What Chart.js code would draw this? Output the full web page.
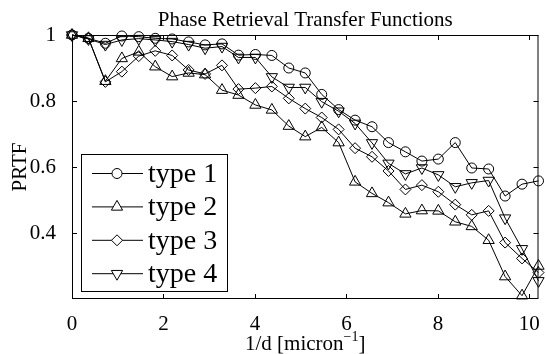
<!DOCTYPE html>
<html>
<head>
<meta charset="utf-8">
<script src="https://cdn.jsdelivr.net/npm/chart.js"></script>
<style>
  html, body { margin: 0; padding: 0; background: #fff; }
  #wrap { width: 546px; height: 354px; }
</style>
</head>
<body>
<div id="wrap"><canvas id="prtfChart"></canvas></div>
<script>
// 1/d [micron^-1]
const freq = [0, 0.36, 0.73, 1.09, 1.46, 1.82, 2.19, 2.55, 2.91, 3.28, 3.64, 4.01, 4.37, 4.74, 5.10,
              5.46, 5.83, 6.19, 6.56, 6.92, 7.29, 7.65, 8.01, 8.38, 8.74, 9.11, 9.47, 9.84, 10.2];

// PRTF per type
const type1 = [1.0, 0.99, 0.975, 0.997, 0.995, 0.99, 0.988, 0.979, 0.97, 0.973, 0.939, 0.941, 0.938, 0.90, 0.885,
               0.82, 0.774, 0.742, 0.722, 0.674, 0.646, 0.618, 0.624, 0.674, 0.597, 0.594, 0.512, 0.548, 0.558];
const type2 = [1.0, 0.99, 0.86, 0.929, 0.949, 0.904, 0.874, 0.885, 0.88, 0.833, 0.818, 0.788, 0.773, 0.724, 0.692,
               0.72, 0.674, 0.555, 0.52, 0.492, 0.458, 0.468, 0.467, 0.434, 0.42, 0.378, 0.268, 0.21, 0.30];
const type3 = [1.0, 0.99, 0.858, 0.889, 0.936, 0.952, 0.938, 0.894, 0.882, 0.908, 0.836, 0.839, 0.844, 0.808, 0.777,
               0.75, 0.714, 0.657, 0.631, 0.588, 0.532, 0.545, 0.525, 0.486, 0.455, 0.467, 0.371, 0.323, 0.28];
const type4 = [1.0, 0.988, 0.971, 0.985, 0.989, 0.985, 0.98, 0.971, 0.96, 0.965, 0.932, 0.932, 0.873, 0.841, 0.841,
               0.798, 0.769, 0.732, 0.673, 0.611, 0.579, 0.597, 0.576, 0.54, 0.552, 0.559, 0.445, 0.352, 0.255];

const seriesNames = ['type 1', 'type 2', 'type 3', 'type 4'];
const xTicks = [0, 2, 4, 6, 8, 10];
const yTicks = [0.4, 0.6, 0.8, 1];

const SERIF = '"Liberation Serif", "Times New Roman", serif';

const markers = [
    { pointStyle: 'circle', pointRadius: 5, pointRotation: 0 },
    { pointStyle: 'triangle', pointRadius: 6.5, pointRotation: 0 },
    { pointStyle: 'rectRot', pointRadius: 5.5, pointRotation: 0 },
    { pointStyle: 'triangle', pointRadius: 6.5, pointRotation: 180 }
];

function makeDataset(name, values, m) {
    return {
        label: name,
        data: freq.map((f, i) => ({ x: f, y: values[i] })),
        borderColor: '#000',
        borderWidth: 1,
        backgroundColor: 'rgba(0,0,0,0)',
        pointStyle: m.pointStyle,
        pointRadius: m.pointRadius,
        pointHoverRadius: m.pointRadius,
        pointRotation: m.pointRotation,
        pointBorderColor: '#000',
        pointBackgroundColor: 'rgba(0,0,0,0)',
        pointBorderWidth: 1,
        tension: 0,
        clip: false
    };
}

// box, inward ticks, titles and legend drawn MATLAB-style
const matlabFrame = {
    id: 'matlabFrame',
    beforeDatasetsDraw(chart) {
        const { ctx, chartArea: a, scales: { x, y } } = chart;
        ctx.save();
        ctx.strokeStyle = '#000';
        ctx.lineWidth = 1;
        ctx.strokeRect(a.left + 0.5, a.top + 0.5, a.right - a.left - 1, a.bottom - a.top - 1);
        ctx.beginPath();
        x.ticks.forEach(t => {
            const px = Math.round(x.getPixelForValue(t.value)) + 0.5;
            ctx.moveTo(px, a.bottom); ctx.lineTo(px, a.bottom - 5);
            ctx.moveTo(px, a.top); ctx.lineTo(px, a.top + 5);
        });
        y.ticks.forEach(t => {
            const py = Math.round(y.getPixelForValue(t.value)) + 0.5;
            ctx.moveTo(a.left, py); ctx.lineTo(a.left + 5, py);
            ctx.moveTo(a.right, py); ctx.lineTo(a.right - 5, py);
        });
        ctx.stroke();
        ctx.restore();
    },
    afterDraw(chart) {
        const { ctx, chartArea: a } = chart;
        const cx = (a.left + a.right) / 2;
        ctx.save();
        ctx.fillStyle = '#000';

        // title
        ctx.font = '21px ' + SERIF;
        ctx.textAlign = 'center';
        ctx.textBaseline = 'alphabetic';
        ctx.fillText('Phase Retrieval Transfer Functions', cx, 26);

        // x label with superscript
        const main = '1/d [micron', sup = '\u22121', close = ']';
        ctx.font = '21px ' + SERIF;
        const w1 = ctx.measureText(main).width, w3 = ctx.measureText(close).width;
        ctx.font = '14px ' + SERIF;
        const w2 = ctx.measureText(sup).width;
        let sx = cx - (w1 + w2 + w3) / 2;
        ctx.textAlign = 'left';
        ctx.font = '21px ' + SERIF;
        ctx.fillText(main, sx, 350);
        ctx.font = '14px ' + SERIF;
        ctx.fillText(sup, sx + w1, 341);
        ctx.font = '21px ' + SERIF;
        ctx.fillText(close, sx + w1 + w2, 350);

        // y label
        ctx.save();
        ctx.translate(20, (a.top + a.bottom) / 2);
        ctx.rotate(-Math.PI / 2);
        ctx.textAlign = 'center';
        ctx.textBaseline = 'middle';
        ctx.fillText('PRTF', 0, 0);
        ctx.restore();

        // legend
        ctx.fillStyle = '#fff';
        ctx.fillRect(81, 154, 146, 137);
        ctx.strokeStyle = '#000';
        ctx.lineWidth = 1;
        ctx.strokeRect(81.5, 154.5, 146, 137);
        chart.data.datasets.forEach((ds, i) => {
            const ry = 173.5 + i * 33.4;
            ctx.beginPath();
            ctx.moveTo(92, ry); ctx.lineTo(143, ry);
            ctx.stroke();
            ctx.fillStyle = '#fff';
            Chart.helpers.drawPoint(ctx, {
                pointStyle: ds.pointStyle, radius: ds.pointRadius,
                rotation: ds.pointRotation, borderWidth: 1
            }, 117, ry);
            ctx.fillStyle = '#000';
            ctx.font = '28px ' + SERIF;
            ctx.textAlign = 'left';
            ctx.textBaseline = 'alphabetic';
            ctx.fillText(ds.label, 148, ry + 8.5);
        });
        ctx.restore();
    }
};

const prtfCtx = document.getElementById('prtfChart').getContext('2d');
const prtfChart = new Chart(prtfCtx, {
    type: 'line',
    data: {
        datasets: [
            makeDataset(seriesNames[0], type1, markers[0]),
            makeDataset(seriesNames[1], type2, markers[1]),
            makeDataset(seriesNames[2], type3, markers[2]),
            makeDataset(seriesNames[3], type4, markers[3])
        ]
    },
    options: {
        responsive: true,
        maintainAspectRatio: false,
        animation: false,
        events: [],
        layout: { padding: { top: 35, right: 5, left: 0, bottom: 0 } },
        plugins: {
            legend: { display: false },
            title: { display: false },
            tooltip: { enabled: false }
        },
        scales: {
            x: {
                type: 'linear',
                min: 0,
                max: 10.2,
                grid: { display: false },
                border: { display: false },
                afterBuildTicks: s => { s.ticks = xTicks.map(v => ({ value: v })); },
                afterFit: s => { s.height = 55; },
                ticks: {
                    color: '#000',
                    padding: 5,
                    maxRotation: 0,
                    font: { family: SERIF, size: 21 },
                    callback: v => String(v)
                }
            },
            y: {
                min: 0.2,
                max: 1,
                grid: { display: false },
                border: { display: false },
                afterBuildTicks: s => { s.ticks = yTicks.map(v => ({ value: v })); },
                afterFit: s => { s.width = 72; },
                ticks: {
                    color: '#000',
                    padding: 8,
                    font: { family: SERIF, size: 21 },
                    callback: v => String(+v.toFixed(1))
                }
            }
        }
    },
    plugins: [matlabFrame]
});
</script>
</body>
</html>
